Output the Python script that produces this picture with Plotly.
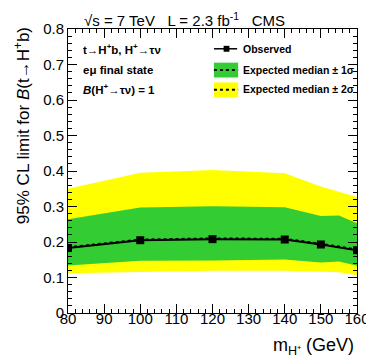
import plotly.graph_objects as go

# charged Higgs mass points (GeV)
mass = [80, 100, 120, 140, 150, 160]
observed = [0.183, 0.205, 0.208, 0.207, 0.193, 0.177]

# expected bands have an extra point at 155
mass_exp = [80, 100, 120, 140, 150, 155, 160]
expected = [0.185, 0.207, 0.210, 0.209, 0.195, 0.187, 0.179]
minus2 = [0.112, 0.116, 0.119, 0.119, 0.117, 0.115, 0.106]
minus1 = [0.134, 0.147, 0.148, 0.151, 0.142, 0.145, 0.133]
plus1 = [0.264, 0.297, 0.301, 0.298, 0.273, 0.275, 0.253]
plus2 = [0.350, 0.395, 0.403, 0.394, 0.356, 0.341, 0.327]

GREEN = "#33cc33"
YELLOW = "#ffff00"
FONT = "Liberation Sans, Arial, sans-serif"

W, H = 374, 359
L, R, T, B = 60, 15, 18, 54
pw, ph = W - L - R, H - T - B


def px(x):
    return (x - L) / pw


def py(y):
    return (H - B - y) / ph


fig = go.Figure()

fig.add_trace(go.Scatter(x=mass_exp, y=minus2, mode="lines", line=dict(width=0),
                         showlegend=False, hoverinfo="skip"))
fig.add_trace(go.Scatter(x=mass_exp, y=plus2, mode="lines", line=dict(width=0),
                         fill="tonexty", fillcolor=YELLOW, showlegend=False))
fig.add_trace(go.Scatter(x=mass_exp, y=minus1, mode="lines", line=dict(width=0),
                         showlegend=False, hoverinfo="skip"))
fig.add_trace(go.Scatter(x=mass_exp, y=plus1, mode="lines", line=dict(width=0),
                         fill="tonexty", fillcolor=GREEN, showlegend=False))
fig.add_trace(go.Scatter(x=mass_exp, y=expected, mode="lines",
                         line=dict(color="black", width=2, dash="dot"), showlegend=False))
fig.add_trace(go.Scatter(x=mass, y=observed, mode="lines+markers",
                         line=dict(color="black", width=2),
                         marker=dict(symbol="square", size=8, color="black"),
                         showlegend=False))

axis_common = dict(
    showgrid=False, zeroline=False, showline=True, linecolor="black", linewidth=1,
    mirror="allticks", ticks="inside", ticklen=9, tickcolor="black",
    tickfont=dict(family=FONT, size=15, color="black"),
)
fig.update_xaxes(range=[80, 160], dtick=10, tick0=80, ticklabelstandoff=-8,
                 minor=dict(dtick=2, ticks="inside", ticklen=4, tickcolor="black"),
                 **axis_common)
fig.update_yaxes(range=[0, 0.8], dtick=0.1, tick0=0, tickformat=".1~f",
                 minor=dict(dtick=0.02, ticks="inside", ticklen=4, tickcolor="black"),
                 **axis_common)

ann = []
# top label
ann.append(dict(x=px(75), y=py(8), xref="paper", yref="paper", xanchor="left", yanchor="middle",
                text="√s = 7 TeV   L = 2.3 fb<sup>-1</sup>   CMS", showarrow=False,
                font=dict(family=FONT, size=15, color="black")))
# y-axis title
ann.append(dict(x=px(12), y=py(14), xref="paper", yref="paper", xanchor="center", yanchor="top",
                text="95% CL limit for <i>B</i>(t→H<sup>+</sup>b)", textangle=-90, showarrow=False,
                font=dict(family=FONT, size=17, color="black")))
# x-axis title
ann.append(dict(x=px(358), y=py(353), xref="paper", yref="paper", xanchor="right", yanchor="bottom",
                text="m<sub>H⁺</sub> (GeV)", showarrow=False,
                font=dict(family=FONT, size=18, color="black")))
# left text block
for ytxt, txt in [(38, "<b>t→H<sup>+</sup>b, H<sup>+</sup>→τν</b>"),
                  (59, "<b>eμ final state</b>"),
                  (79, "<b><i>B</i>(H<sup>+</sup>→τν) = 1</b>")]:
    ann.append(dict(x=px(73), y=py(ytxt), xref="paper", yref="paper", xanchor="left",
                    yanchor="middle", text=txt, showarrow=False,
                    font=dict(family=FONT, size=11.5, color="black")))
# legend text
for ytxt, txt in [(38, "<b>Observed</b>"),
                  (59, "<b>Expected median ± 1σ</b>"),
                  (79, "<b>Expected median ± 2σ</b>")]:
    ann.append(dict(x=px(239), y=py(ytxt), xref="paper", yref="paper", xanchor="left",
                    yanchor="middle", text=txt, showarrow=False,
                    font=dict(family=FONT, size=10.5, color="black")))

shapes = []
# legend: observed
shapes.append(dict(type="line", xref="paper", yref="paper", x0=px(211), x1=px(235),
                   y0=py(38), y1=py(38), line=dict(color="black", width=1.5)))
shapes.append(dict(type="rect", xref="paper", yref="paper", x0=px(221), x1=px(227),
                   y0=py(35), y1=py(41), fillcolor="black", line=dict(width=0)))
# legend: bands
for yc, col in [(59.5, GREEN), (79.5, YELLOW)]:
    shapes.append(dict(type="rect", xref="paper", yref="paper", x0=px(211), x1=px(236),
                       y0=py(yc - 7.5), y1=py(yc + 7.5), fillcolor=col, line=dict(width=0)))
    shapes.append(dict(type="line", xref="paper", yref="paper", x0=px(211), x1=px(236),
                       y0=py(yc), y1=py(yc), line=dict(color="black", width=2, dash="dot")))

fig.update_layout(
    width=W, height=H,
    margin=dict(l=L, r=R, t=T, b=B),
    paper_bgcolor="white", plot_bgcolor="white",
    showlegend=False,
    annotations=ann, shapes=shapes,
    font=dict(family=FONT, color="black"),
)

fig.write_html("out.html")
